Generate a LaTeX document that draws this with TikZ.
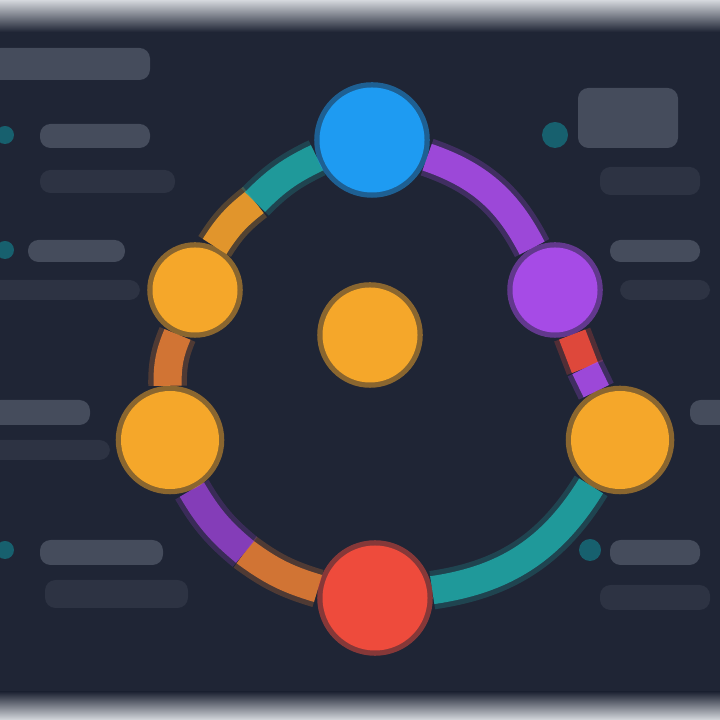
\documentclass[tikz,border=0pt]{standalone}
\usetikzlibrary{backgrounds}

\definecolor{panel}{HTML}{1F2535}
\definecolor{rim}{HTML}{D5D8DD}
\definecolor{bar}{HTML}{454C5C}
\definecolor{barlow}{HTML}{2D3343}
\definecolor{dot}{HTML}{17606E}
\definecolor{hubblue}{HTML}{1E9BF2}
\definecolor{amber}{HTML}{F5A72A}
\definecolor{violet}{HTML}{A64BE6}
\definecolor{coral}{HTML}{EE4B3C}
\definecolor{teal}{HTML}{1FA3A3}
\definecolor{rust}{HTML}{E07B34}

\tikzset{
	spot/.style={circle, inner sep=0pt, fill=#1, draw=#1, draw opacity=0.5, line width=3pt},
	seg/.style={draw=#1, line width=8pt, line cap=butt, draw opacity=0.9,
		preaction={draw=#1, line width=11pt, draw opacity=0.25}},
	txt/.style={fill=bar, rounded corners=3pt},
	txtlow/.style={fill=barlow, rounded corners=3pt},
}

\begin{document}
\begin{tikzpicture}
	\useasboundingbox (0,0) rectangle (7.2,7.2);

	\node (T)  at (3.72, 5.80)	[spot=hubblue, minimum size=1.05cm]	{};
	\node (UR) at (5.55, 4.30)	[spot=violet,  minimum size=0.85cm]	{};
	\node (R)  at (6.20, 2.80)	[spot=amber,   minimum size=0.98cm]	{};
	\node (B)  at (3.75, 1.22)	[spot=coral,   minimum size=1.05cm]	{};
	\node (L)  at (1.70, 2.80)	[spot=amber,   minimum size=0.98cm]	{};
	\node (UL) at (1.95, 4.30)	[spot=amber,   minimum size=0.85cm]	{};
	\node (C)  at (3.70, 3.85)	[spot=amber,   minimum size=0.95cm]	{};

	\begin{scope}[on background layer]
		\fill[panel] (0,0) rectangle (7.2,7.2);
		\shade[top color=rim, bottom color=panel] (0,6.88) rectangle (7.2,7.2);
		\shade[bottom color=rim, top color=panel] (0,0) rectangle (7.2,0.28);

		% left column
		\fill[txt] (-0.1,6.40) rectangle (1.50,6.72);
		\fill[dot] (0.05,5.85) circle (0.09);
		\fill[txt] (0.40,5.72) rectangle (1.50,5.96);
		\fill[txtlow] (0.40,5.27) rectangle (1.75,5.50);
		\fill[dot] (0.05,4.70) circle (0.09);
		\fill[txt] (0.28,4.58) rectangle (1.25,4.80);
		\fill[txtlow] (-0.1,4.20) rectangle (1.40,4.40);
		\fill[txt] (-0.1,2.95) rectangle (0.90,3.20);
		\fill[txtlow] (-0.1,2.60) rectangle (1.10,2.80);
		\fill[dot] (0.05,1.70) circle (0.09);
		\fill[txt] (0.40,1.55) rectangle (1.63,1.80);
		\fill[txtlow] (0.45,1.12) rectangle (1.88,1.40);

		% right column
		\fill[dot] (5.55,5.85) circle (0.13);
		\fill[txt] (5.78,5.72) rectangle (6.78,6.32);
		\fill[txtlow] (6.00,5.25) rectangle (7.00,5.53);
		\fill[txt] (6.10,4.58) rectangle (7.00,4.80);
		\fill[txtlow] (6.20,4.20) rectangle (7.10,4.40);
		\fill[txt] (6.90,2.95) rectangle (7.30,3.20);
		\fill[dot] (5.90,1.70) circle (0.11);
		\fill[txt] (6.10,1.55) rectangle (7.00,1.80);
		\fill[txtlow] (6.00,1.10) rectangle (7.10,1.35);

		% ring
		\coordinate (M1) at (2.55,5.18);
		\coordinate (M2) at (2.45,1.68);
		\coordinate (M3) at (5.85,3.52);
		\draw[seg=violet] (T) to[bend left=22] (UR);
		\draw[seg=coral] (UR) -- (M3);
		\draw[seg=violet] (M3) -- (R);
		\draw[seg=teal] (R) to[bend left=25] (B);
		\draw[seg=rust] (B) to[bend left=10] (M2);
		\draw[seg=violet!85!black] (M2) to[bend left=10] (L);
		\draw[seg=rust] (L) to[bend left=12] (UL);
		\draw[seg=amber!80!rust] (UL) to[bend left=10] (M1);
		\draw[seg=teal] (M1) to[bend left=10] (T);
	\end{scope}
\end{tikzpicture}
\end{document}
